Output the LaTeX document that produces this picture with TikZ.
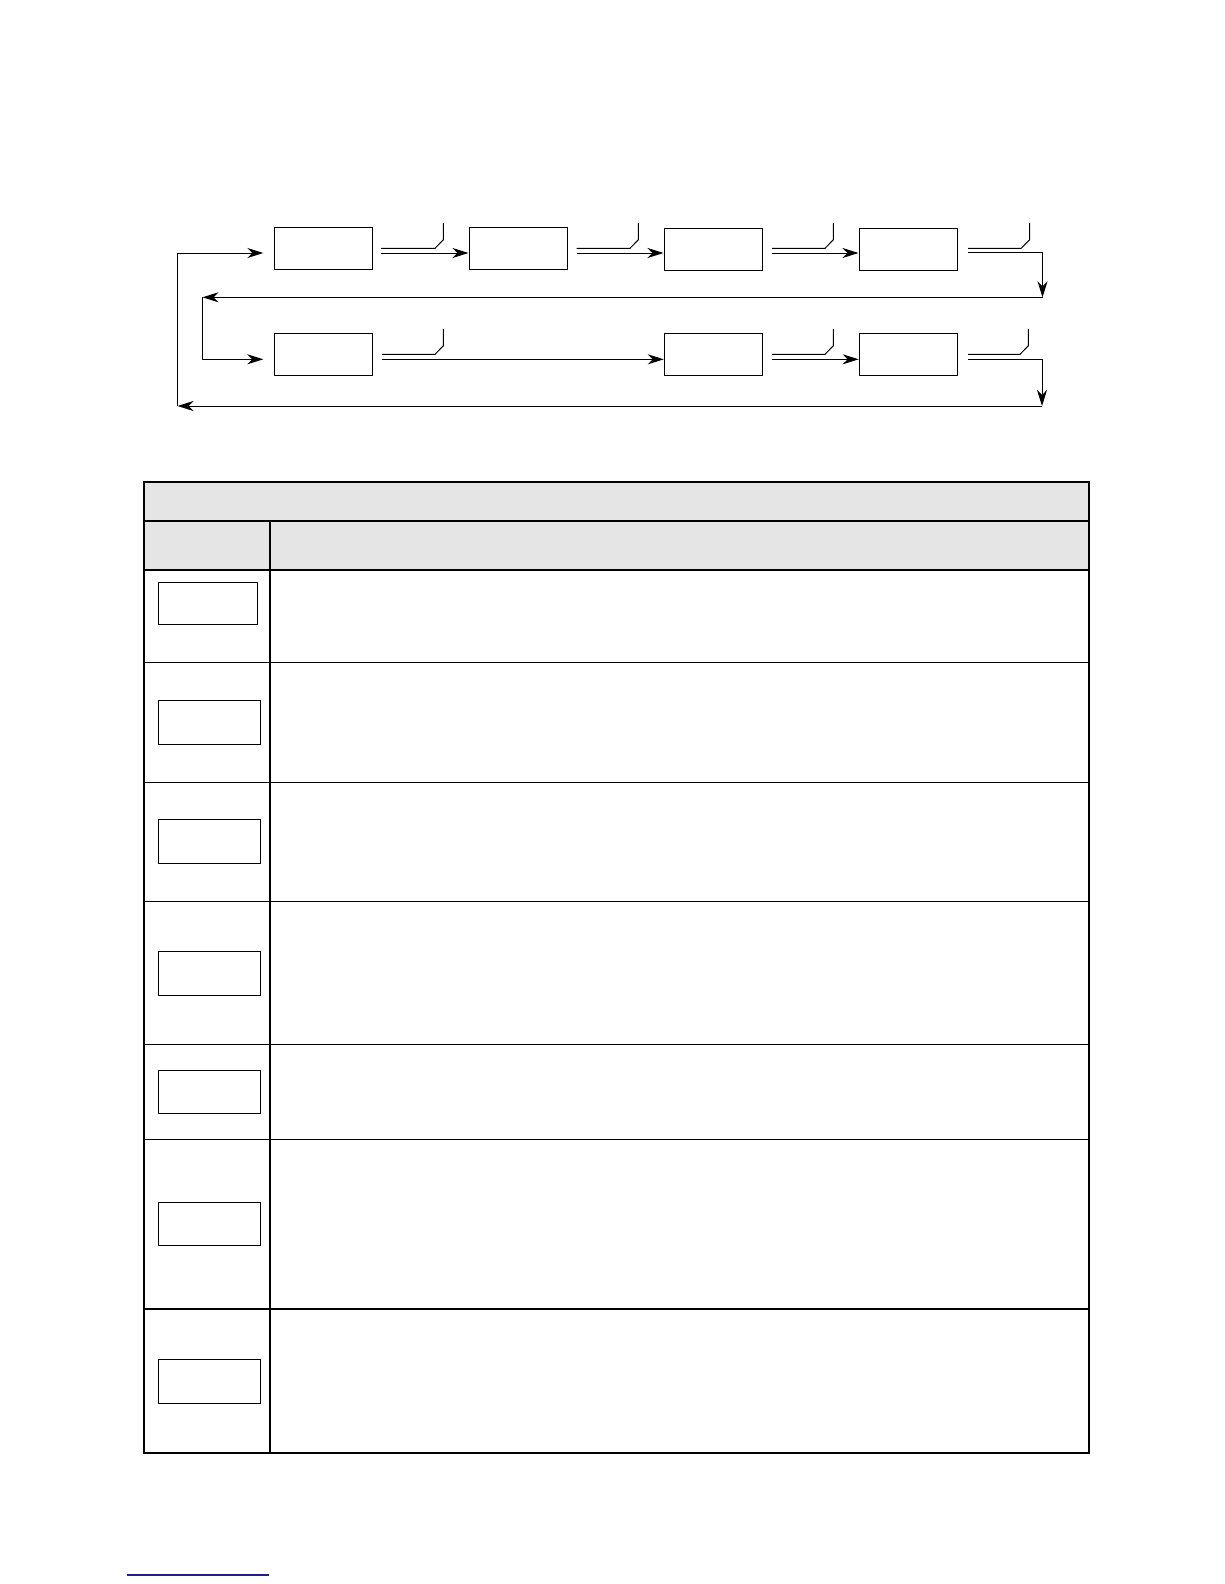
\documentclass[tikz,border=0pt]{standalone}
\usetikzlibrary{arrows.meta}
\definecolor{hdrgray}{RGB}{229,229,229}
\definecolor{linkblue}{RGB}{30,30,140}
\begin{document}
\begin{tikzpicture}[x=1pt,y=-1pt,
  blk/.style={draw,line width=1pt,minimum width=98pt,minimum height=42pt,inner sep=0pt},
  arr/.style={line width=1pt,-{Stealth[length=16pt,width=10pt,inset=5pt]}},
  wire/.style={line width=1pt},
  tline/.style={line width=1.15pt},
  cellbox/.style={draw,line width=1pt}]
\useasboundingbox (0,0) rectangle (1224,1584);
% ---- flow diagram ----
\node[blk] (b1) at (323.3,248.8) {};
\node[blk] (b2) at (518,248.8) {};
\node[blk] (b3) at (713,249.3) {};
\node[blk] (b4) at (908,249.3) {};
\node[blk] (b5) at (323.8,354.3) {};
\node[blk] (b6) at (713.3,354.3) {};
\node[blk] (b7) at (908.2,354.7) {};
% start points of outgoing lines
\coordinate (s1) at (381,253);
\coordinate (s2) at (576.7,253);
\coordinate (s3) at (772,253);
\coordinate (s4) at (968,252.3);
\coordinate (s5) at (382,359.3);
\coordinate (s6) at (772,359.3);
\coordinate (s7) at (968,359.3);
\coordinate (c1) at (1042.5,297.3);
\coordinate (c2) at (202.5,297.3);
\coordinate (e5) at (263.3,359.3);
\coordinate (c3) at (1042,406);
\coordinate (c4) at (177.5,406);
\coordinate (e1) at (263.3,253);
% switch symbols
\foreach \xs/\sx/\yu in {381/443.3/248.3, 576.7/638.3/248.3, 772/833.3/248.3, 968/1029.5/248.3,
                         382/443.3/354.3, 772/833.3/354.3, 968/1028.3/354.3}{
  \draw[wire] (\xs,\yu) -- (\sx-8.3,\yu) -- (\sx,\yu-8.5) -- (\sx,\yu-25.3);
}
% connectors
\draw[arr] (s1) -- (s1 -| b2.west);
\draw[arr] (s2) -- (s2 -| b3.west);
\draw[arr] (s3) -- (s3 -| b4.west);
\draw[arr] (s4) -| (c1);
\draw[arr] (c1) -- (c2);
\draw[arr] (c2) |- (e5);
\draw[arr] (s5) -- (s5 -| b6.west);
\draw[arr] (s6) -- (s6 -| b7.west);
\draw[arr] (s7) -| (c3);
\draw[arr] (c3) -- (c4);
\draw[arr] (c4) |- (e1);
% ---- table ----
\fill[hdrgray] (144,482) rectangle (1089,570);
\draw[tline] (144,482) rectangle (1089,1453);
\draw[tline] (144,521) -- (1089,521);
\draw[tline] (270,521) -- (270,1453);
\foreach \yy in {570,662.2,782.4,901.5,1044.8,1139.7,1309}{
  \draw[tline] (144,\yy) -- (1089,\yy);
}
\draw[cellbox] (158.5,582.5) rectangle (257.4,624.9);
\draw[cellbox] (158,700.6) rectangle (260,744);
\draw[cellbox] (158,819.7) rectangle (260,863.1);
\draw[cellbox] (158,951) rectangle (260,995.4);
\draw[cellbox] (158,1070) rectangle (260,1113.5);
\draw[cellbox] (158,1202.3) rectangle (260,1245.7);
\draw[cellbox] (158,1359) rectangle (260,1403);
% footer rule
\draw[linkblue,line width=1.8pt] (127,1575) -- (269,1575);
\end{tikzpicture}
\end{document}
